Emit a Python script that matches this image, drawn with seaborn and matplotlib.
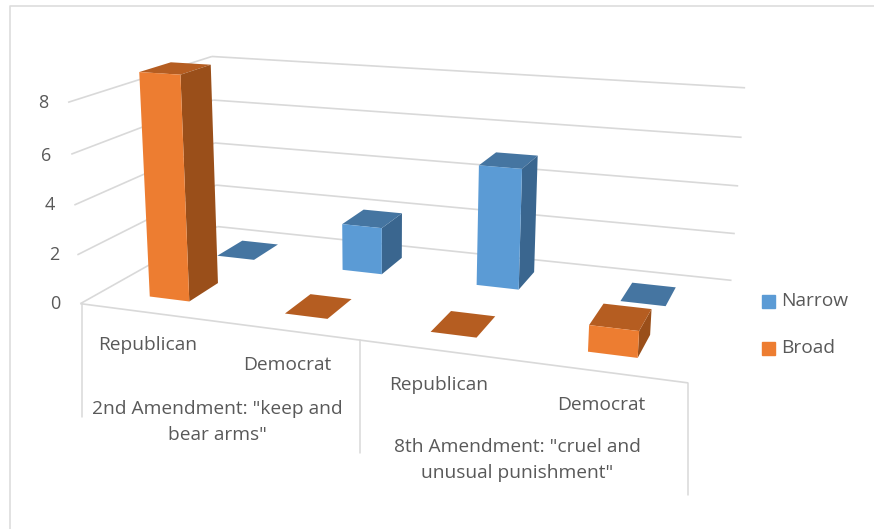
import numpy as np
import matplotlib
matplotlib.use('Agg')
import matplotlib.pyplot as plt
import seaborn as sns
from mpl_toolkits.mplot3d.art3d import Line3DCollection

# Datos
categorias = ['Republican', 'Democrat', 'Republican', 'Democrat']
enmiendas = ['2nd Amendment: "keep and\nbear arms"', '8th Amendment: "cruel and\nunusual punishment"']
narrow = [0, 2, 5, 0]
broad = [9, 0, 0, 1]
ticks_z = [0, 2, 4, 6, 8]

sns.set_theme(style='white')
plt.rcParams['font.family'] = ['Open Sans', 'DejaVu Sans']

W, H = 874, 529
fig = plt.figure(figsize=(W / 100, H / 100), dpi=100)
# eje cuadrado del ancho de la figura, asi 3D no mueve nada
ax = fig.add_axes([0, (H - W) / 2 / H, 1, W / H], projection='3d', computed_zorder=False)
ax.set_axis_off()
ax.apply_aspect()

# calibracion de la perspectiva: (cat, serie, valor) -> pixel de la imagen
calib = [
    ((0, 0, 0), (82, 304)), ((2, 0, 0), (360, 340)), ((4, 0, 0), (688, 383)),
    ((0, 2, 0), (216, 227)), ((4, 2, 0), (732, 280)),
    ((0, 0, 8), (67, 102)), ((0, 2, 8), (213, 57)), ((4, 2, 8), (745, 88)),
    ((0, 0, 4), (74, 205)), ((0, 2, 4), (215, 142)), ((4, 2, 4), (738, 186)),
]
A = []
for (x, y, z), (u, v) in calib:
    A.append([x, y, z, 1, 0, 0, 0, 0, -u * x, -u * y, -u * z, -u])
    A.append([0, 0, 0, 0, x, y, z, 1, -v * x, -v * y, -v * z, -v])
P = np.linalg.svd(np.array(A, dtype=float))[2][-1].reshape(3, 4)
P = P / P[2, 3]

# pixel (arriba-abajo) -> coordenadas 2D del eje
inv = ax.transData.inverted()
o = inv.transform((0, H))
e = inv.transform((1, H - 1))
sx, sy = e[0] - o[0], e[1] - o[1]
M = np.zeros((4, 4))
M[0] = sx * P[0] + o[0] * P[2]
M[1] = sy * P[1] + o[1] * P[2]
M[2] = [0, 0.001, 0, 0]
M[3] = P[2]
ax.get_proj = lambda: M

c_narrow = ['#5B9BD5', '#4575A1', '#3A668F']
c_broad = ['#ED7D31', '#B55D21', '#9A4F1A']
grid = '#D9D9D9'
texto = '#595959'
nada = (0, 0, 0, 0)

# paredes con lineas de cuadricula
segmentos = [[(0, 0, 0), (4, 0, 0)]]
for z in ticks_z:
    segmentos.append([(0, 0, z), (0, 2, z)])
    segmentos.append([(0, 2, z), (4, 2, z)])
lineas = Line3DCollection(segmentos, colors=grid, linewidths=1.2, zorder=1)
ax.add_collection3d(lineas, autolim=False)

# barras
bw, bd = 0.30, 0.42
xs, ys, hs, cols = [], [], [], []
for i in range(4):
    for j, (vals, c) in enumerate([(broad, c_broad), (narrow, c_narrow)]):
        xs.append(i + (1 - bw) / 2 + 0.01)
        ys.append(j + (1 - bd) / 2)
        hs.append(vals[i])
        if vals[i] == 0:
            cols += [nada, c[1], nada, nada, nada, nada]
        else:
            # abajo, arriba, -y (frente), +y, -x, +x (lado)
            cols += [nada, c[1], c[0], nada, nada, c[2]]
barras = ax.bar3d(xs, ys, np.zeros(len(xs)), bw, bd, hs, color=cols, shade=False, edgecolor='none')
barras.set_zorder(2)

# marco del grafico y texto
fig.add_artist(plt.Line2D([9.5 / W, 9.5 / W, 1], [0, 1 - 6 / H, 1 - 6 / H], color='#DDDDDD', lw=1.2))
for x0, y0, y1 in [(82, 304, 417), (360, 340, 453), (688, 383, 495)]:
    fig.add_artist(plt.Line2D([x0 / W, x0 / W], [1 - y0 / H, 1 - y1 / H], color=grid, lw=1.1))


def rotulo(x, y, s, ha='center', size=13.8):
    fig.text(x / W, 1 - y / H, s, ha=ha, va='center', color=texto, fontsize=size, linespacing=1.55)


for s, (x, y) in zip(ticks_z, [(55, 304), (54, 255), (50, 205), (46, 156), (43, 103)]):
    rotulo(x, y, str(s), size=13)
for s, (x, y) in zip(categorias, [(148, 345), (287, 365), (439, 385), (601, 405)]):
    rotulo(x, y, s)
for s, (x, y) in zip(enmiendas, [(217, 422), (517, 460)]):
    rotulo(x, y, s)

# leyenda
for y, c, s in [(301.5, c_narrow[0], 'Narrow'), (348, c_broad[0], 'Broad')]:
    fig.patches.append(plt.Rectangle((762 / W, 1 - (y + 6.5) / H), 13 / W, 13 / H, color=c,
                                     transform=fig.transFigure, figure=fig))
    rotulo(781, y, s, ha='left')

fig.savefig('out.png', dpi=100)
